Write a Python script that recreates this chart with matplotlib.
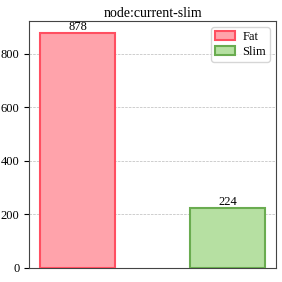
import matplotlib
matplotlib.use("Agg")
import matplotlib.pyplot as plt

# values
labels = ["Fat", "Slim"]
counts = [878, 224]
title = "node:current-slim"

face_colors = ["#ffa3ab", "#b6e0a2"]
edge_colors = ["#ff4f61", "#6aac50"]

plt.rcParams["font.family"] = ["Liberation Serif", "DejaVu Serif"]

fig, ax = plt.subplots(figsize=(2.82, 2.82), dpi=100)
for i, (lab, c) in enumerate(zip(labels, counts)):
    ax.bar(i, c, width=0.5, color=face_colors[i], edgecolor=edge_colors[i],
           linewidth=1.5, label=lab, zorder=3)
    ax.text(i, c, str(c), ha="center", va="bottom", fontsize=9)

ax.set_xticks([])
ax.tick_params(axis="y", labelsize=9)
for s in ax.spines.values():
    s.set_color("#444444")
ax.grid(axis="y", linestyle="--", linewidth=0.5, color="#bbbbbb", zorder=0)
ax.set_title(title, fontsize=10, pad=3)
ax.legend(loc="upper right", fontsize=9, handlelength=1.6, borderpad=0.3,
          labelspacing=0.25, handletextpad=0.6)
fig.subplots_adjust(left=0.103, right=0.979, top=0.926, bottom=0.05)
fig.savefig("out.png", dpi=100)
